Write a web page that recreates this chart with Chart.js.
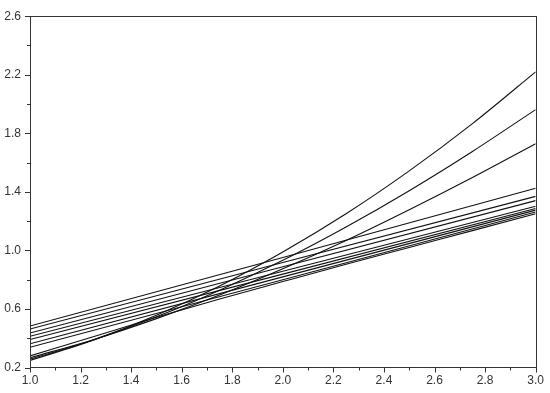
<!DOCTYPE html>
<html><head><meta charset="utf-8">
<script src="https://cdn.jsdelivr.net/npm/chart.js@4"></script>
<style>html,body{margin:0;padding:0;background:#fff}#wrap{width:550px;height:393px}</style>
</head><body><div id="wrap"><canvas id="c"></canvas></div>
<script>
const xCurve = [1.0, 1.25, 1.5, 1.75, 2.0, 2.25, 2.5, 2.75, 3.0];
const curve1 = [0.248, 0.387, 0.557, 0.757, 0.989, 1.25, 1.543, 1.866, 2.22];
const curve2 = [0.257, 0.388, 0.546, 0.728, 0.932, 1.160, 1.408, 1.676, 1.962];
const curve3 = [0.266, 0.390, 0.534, 0.695, 0.874, 1.068, 1.278, 1.498, 1.729];
const curve4 = [0.279, 0.410, 0.543, 0.668, 0.787, 0.905, 1.020, 1.135, 1.250];
const xLine = [1.0, 2.0, 3.0];
const line1 = [0.483, 0.952, 1.425];
const line2 = [0.463, 0.917, 1.369];
const line3 = [0.436, 0.888, 1.340];
const line4 = [0.413, 0.857, 1.302];
const line5 = [0.391, 0.838, 1.286];
const line6 = [0.362, 0.819, 1.275];
const line7 = [0.338, 0.800, 1.262];
const xTicks = [1.0, 1.2, 1.4, 1.6, 1.8, 2.0, 2.2, 2.4, 2.6, 2.8, 3.0];
const yTicks = [0.2, 0.6, 1.0, 1.4, 1.8, 2.2, 2.6];

const curves = [curve1, curve2, curve3, curve4];
const lines = [line1, line2, line3, line4, line5, line6, line7];
const mk = (xv, ys, smooth) => ({
  data: xv.map((x, j) => ({x: x, y: ys[j]})),
  showLine: true, borderColor: '#111', borderWidth: 1.1, pointRadius: 0,
  cubicInterpolationMode: smooth ? 'monotone' : 'default', tension: 0, fill: false
});
const datasets = curves.map(c => mk(xCurve, c, true)).concat(lines.map(l => mk(xLine, l, false)));

const frame = {
  id: 'frame',
  afterDraw(chart) {
    const {ctx, chartArea: a, scales: {x, y}} = chart;
    ctx.save();
    ctx.strokeStyle = '#333'; ctx.lineWidth = 1;
    ctx.strokeRect(Math.round(a.left) + 0.5, Math.round(a.top) + 0.5, Math.round(a.right - a.left), Math.round(a.bottom - a.top));
    ctx.beginPath();
    for (let k = 0; k <= 20; k++) {
      const v = 1.0 + k * 0.1;
      const px = Math.round(x.getPixelForValue(v)) + 0.5;
      ctx.moveTo(px, a.bottom); ctx.lineTo(px, a.bottom + (k % 2 === 0 ? 5 : 3));
    }
    for (let k = 0; k <= 12; k++) {
      const v = 0.2 + k * 0.2;
      const py = Math.round(y.getPixelForValue(v)) + 0.5;
      ctx.moveTo(a.left, py); ctx.lineTo(a.left - (k % 2 === 0 ? 5 : 3), py);
    }
    ctx.stroke();
    ctx.restore();
  }
};

new Chart(document.getElementById('c'), {
  type: 'scatter',
  data: { datasets },
  options: {
    responsive: true, maintainAspectRatio: false, animation: false,
    layout: { padding: { top: 9, right: 13, left: 0, bottom: 0 } },
    plugins: { legend: { display: false }, tooltip: { enabled: false } },
    scales: {
      x: {
        type: 'linear', min: 1.0, max: 3.0,
        afterFit(s) { s.height = 25.5; },
        afterBuildTicks(s) { s.ticks = xTicks.map(v => ({value: v})); },
        grid: { drawOnChartArea: false, drawTicks: false },
        border: { display: false },
        ticks: { padding: 6, maxRotation: 0, color: '#333', font: { family: 'Liberation Sans, Arial', size: 12 },
          callback: v => v.toFixed(1) }
      },
      y: {
        type: 'linear', min: 0.2, max: 2.6,
        afterFit(s) { s.width = 30; },
        afterBuildTicks(s) { s.ticks = yTicks.map(v => ({value: v})); },
        grid: { drawOnChartArea: false, drawTicks: false },
        border: { display: false },
        ticks: { padding: 9, color: '#333', font: { family: 'Liberation Sans, Arial', size: 12 },
          callback: v => v.toFixed(1) }
      }
    }
  },
  plugins: [frame]
});
</script></body></html>
